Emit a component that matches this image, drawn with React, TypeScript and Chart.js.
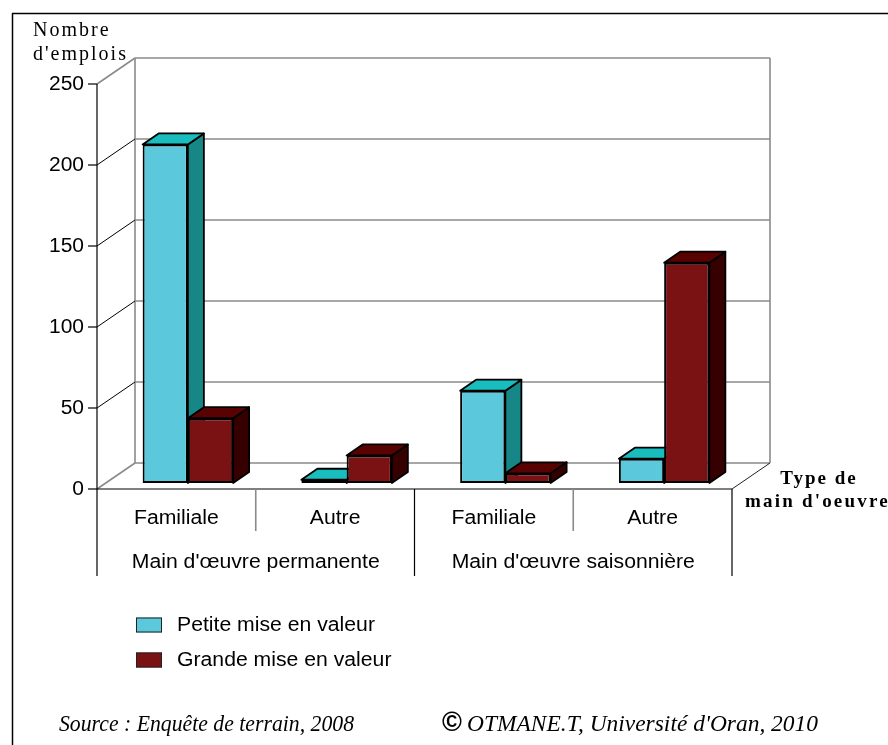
import React, { useEffect, useRef } from "react";
import { Chart, registerables } from "chart.js";
Chart.register(...registerables);

// ---------- data ----------
const categories = ["Familiale", "Autre", "Familiale", "Autre"];
const groups = ["Main d'œuvre permanente", "Main d'œuvre saisonnière"];
const seriesNames = ["Petite mise en valeur", "Grande mise en valeur"];
const petite = [209, 2, 57, 15];
const grande = [40, 17, 6, 136];
const yTicks = [0, 50, 100, 150, 200, 250];
const yTitle = ["Nombre", "d'emplois"];
const xTitle = ["Type de", "main d'oeuvre"];
const sourceText = "Source : Enquête de terrain, 2008";
const creditText = "OTMANE.T, Université d'Oran, 2010";

// ---------- styles ----------
const W = 888, H = 745;
const SANS = '"Liberation Sans", Arial, sans-serif';
const SERIF = '"Liberation Serif", "Times New Roman", serif';
const COLORS = [
  { front: "#5CC8DB", top: "#1ABDBD", side: "#178686" },
  { front: "#7A1214", top: "#580202", side: "#360000" },
];
const GRAY = "#8a8a8a";
const FRONT_DX = -11.5, FRONT_DY = 6; // bar plane -> front axis plane
const WALL_DX = 38, WALL_DY = -26;    // front -> back wall
const BAR_DX = 16, BAR_DY = -11;      // bar depth
const SX = 1.06;

function txt(ctx: CanvasRenderingContext2D, s: string, x: number, y: number, font: string,
  align: CanvasTextAlign = "left", opts: { sx?: number; width?: number; ls?: string } = {}) {
  ctx.save();
  ctx.font = font;
  ctx.fillStyle = "#000";
  ctx.textBaseline = "middle";
  ctx.textAlign = align;
  if (opts.ls) (ctx as any).letterSpacing = opts.ls;
  let sx = opts.sx ?? 1;
  if (opts.width) sx = opts.width / ctx.measureText(s).width;
  ctx.translate(x, y);
  ctx.scale(sx, 1);
  ctx.fillText(s, 0, 0);
  ctx.restore();
}

function line(ctx: CanvasRenderingContext2D, x1: number, y1: number, x2: number, y2: number, color: string, lw: number) {
  ctx.save();
  ctx.strokeStyle = color;
  ctx.lineWidth = lw;
  ctx.beginPath();
  ctx.moveTo(x1, y1);
  ctx.lineTo(x2, y2);
  ctx.stroke();
  ctx.restore();
}

function poly(ctx: CanvasRenderingContext2D, pts: number[][], fill: string) {
  ctx.save();
  ctx.beginPath();
  pts.forEach((p, i) => (i ? ctx.lineTo(p[0], p[1]) : ctx.moveTo(p[0], p[1])));
  ctx.closePath();
  ctx.fillStyle = fill;
  ctx.fill();
  ctx.strokeStyle = "#000";
  ctx.lineWidth = 1.8;
  ctx.lineJoin = "round";
  ctx.stroke();
  ctx.restore();
}

const scene = {
  id: "scene3d",
  beforeDatasetsDraw(chart: any) {
    const ctx: CanvasRenderingContext2D = chart.ctx;
    const ys = chart.scales.y;
    const ca = chart.chartArea;
    const fx0 = ca.left + FRONT_DX, fx1 = ca.right + FRONT_DX;
    const fy = (v: number) => ys.getPixelForValue(v) + FRONT_DY;
    const bx0 = fx0 + WALL_DX, bx1 = fx1 + WALL_DX;
    const vmax = yTicks[yTicks.length - 1];

    // outer frame
    line(ctx, 12.5, H, 12.5, 13.5, "#000", 1.5);
    line(ctx, 12, 13.5, W, 13.5, "#000", 1.5);

    // back wall gridlines + edges
    yTicks.forEach((v) => line(ctx, bx0, fy(v) + WALL_DY, bx1, fy(v) + WALL_DY, GRAY, 1.6));
    line(ctx, bx0, fy(vmax) + WALL_DY, bx0, fy(0) + WALL_DY, GRAY, 1.6);
    line(ctx, bx1, fy(vmax) + WALL_DY, bx1, fy(0) + WALL_DY, GRAY, 1.6);
    // left wall diagonals
    yTicks.forEach((v) => {
      const edge = v === 0 || v === vmax;
      line(ctx, fx0, fy(v), bx0, fy(v) + WALL_DY, edge ? GRAY : "#000", edge ? 1.6 : 1);
    });
    // floor right edge
    line(ctx, fx1, fy(0), bx1, fy(0) + WALL_DY, "#222", 1);

    // table below floor
    const catW = (fx1 - fx0) / categories.length;
    const tableBottom = 576, shortBottom = 531;
    line(ctx, fx0, fy(0), fx1, fy(0), "#000", 1.2);
    for (let i = 0; i <= categories.length; i++) {
      const xx = fx0 + i * catW;
      const major = i % 2 === 0;
      line(ctx, xx, fy(0), xx, major ? tableBottom : shortBottom, major ? "#000" : GRAY, major ? 1.2 : 1.6);
    }
    // front axis & ticks
    line(ctx, fx0, fy(vmax), fx0, fy(0), "#000", 1.2);
    yTicks.forEach((v) => line(ctx, fx0 - 9, fy(v), fx0, fy(v), "#000", 1.2));

    // bar sides and tops (left to right)
    const bars: any[] = [];
    chart.data.datasets.forEach((_: any, di: number) => {
      chart.getDatasetMeta(di).data.forEach((el: any) => bars.push({ el, di }));
    });
    bars.sort((a, b) => a.el.x - b.el.x);
    bars.forEach(({ el, di }) => {
      const l = el.x - el.width / 2, r = el.x + el.width / 2, t = el.y, b = el.base;
      const c = COLORS[di];
      poly(ctx, [[r, t], [r + BAR_DX, t + BAR_DY], [r + BAR_DX, b + BAR_DY], [r, b]], c.side);
      poly(ctx, [[l, t], [l + BAR_DX, t + BAR_DY], [r + BAR_DX, t + BAR_DY], [r, t]], c.top);
    });
  },
  afterDraw(chart: any) {
    const ctx: CanvasRenderingContext2D = chart.ctx;
    const ys = chart.scales.y;
    const ca = chart.chartArea;
    const fx0 = ca.left + FRONT_DX, fx1 = ca.right + FRONT_DX;
    const fy = (v: number) => ys.getPixelForValue(v) + FRONT_DY;
    const catW = (fx1 - fx0) / categories.length;

    // y tick labels
    yTicks.forEach((v) => txt(ctx, String(v), fx0 - 13, fy(v), `20px ${SANS}`, "right", { sx: 1.05 }));
    // category labels
    categories.forEach((c, i) => txt(ctx, c, fx0 + (i + 0.5) * catW, 518, `20px ${SANS}`, "center", { sx: SX }));
    groups.forEach((g, i) => txt(ctx, g, fx0 + (i * 2 + 1) * catW, 562, `20px ${SANS}`, "center", { sx: SX }));

    // axis titles
    txt(ctx, yTitle[0], 33, 31, `20px ${SERIF}`, "left", { ls: "2px" });
    txt(ctx, yTitle[1], 33, 55, `20px ${SERIF}`, "left", { ls: "2px" });
    txt(ctx, xTitle[0], 819, 479, `bold 19px ${SERIF}`, "center", { ls: "2px" });
    txt(ctx, xTitle[1], 745, 502, `bold 19px ${SERIF}`, "left", { ls: "2.2px" });

    // legend
    const legY = [625, 660];
    seriesNames.forEach((s, i) => {
      ctx.save();
      ctx.fillStyle = COLORS[i].front;
      ctx.fillRect(136, legY[i] - 7.5, 26, 15);
      ctx.strokeStyle = "#222";
      ctx.lineWidth = 1;
      ctx.strokeRect(136.5, legY[i] - 7, 25, 14);
      ctx.restore();
      txt(ctx, s, 177, legY[i], `20px ${SANS}`, "left", { sx: SX });
    });

    // footer
    txt(ctx, sourceText, 59, 725, `italic 24px ${SERIF}`, "left", { width: 295 });
    txt(ctx, "©", 452, 724, `bold 27px ${SANS}`, "center");
    txt(ctx, creditText, 467, 725, `italic 24px ${SERIF}`, "left", { width: 351 });
  },
};

export default function App() {
  const ref = useRef<HTMLCanvasElement>(null);
  useEffect(() => {
    document.body.style.margin = "0";
    const chart = new Chart(ref.current!, {
      type: "bar",
      data: {
        labels: categories,
        datasets: [
          { label: seriesNames[0], data: petite, backgroundColor: COLORS[0].front },
          { label: seriesNames[1], data: grande, backgroundColor: COLORS[1].front },
        ].map((d) => ({
          ...d,
          borderColor: "#000",
          borderWidth: 2,
          borderSkipped: false,
          categoryPercentage: 0.57,
          barPercentage: 1,
        })),
      },
      options: {
        animation: false,
        responsive: false,
        devicePixelRatio: 1,
        events: [],
        layout: { padding: { left: 108.5, right: 144.5, top: 78, bottom: 262 } },
        scales: {
          x: { display: false, grid: { display: false } },
          y: { display: false, min: 0, max: 250, grid: { display: false } },
        },
        plugins: { legend: { display: false }, tooltip: { enabled: false } },
      },
      plugins: [scene],
    });
    return () => chart.destroy();
  }, []);
  return (
    <div style={{ width: W, height: H }}>
      <canvas ref={ref} width={W} height={H} style={{ display: "block", width: W, height: H }} />
    </div>
  );
}
